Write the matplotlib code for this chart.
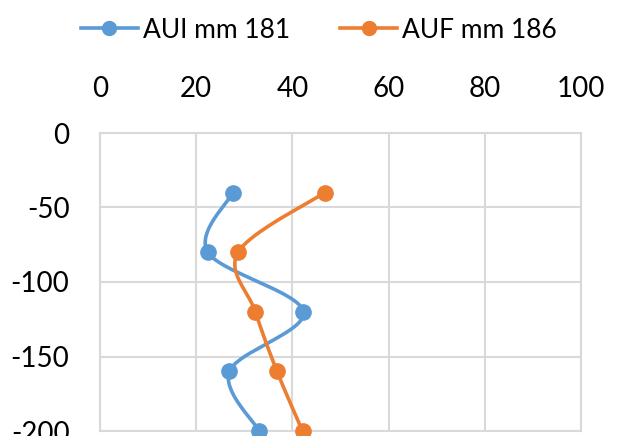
import numpy as np
import matplotlib
matplotlib.use("Agg")
import matplotlib.pyplot as plt
from matplotlib.lines import Line2D

# Depth profile data
depths = [-40, -80, -120, -160, -200]
aui_values = [27.6, 22.4, 42.3, 26.9, 33.1]
auf_values = [46.7, 28.7, 32.3, 36.8, 42.1]
series_names = ["AUI mm 181", "AUF mm 186"]
series_colors = ["#5B9BD5", "#ED7D31"]
x_ticks = [0, 20, 40, 60, 80, 100]
y_ticks = [0, -50, -100, -150, -200]

plt.rcParams["font.family"] = ["Lato", "DejaVu Sans"]
plt.rcParams["axes.unicode_minus"] = False

fig = plt.figure(figsize=(6.22, 4.36), dpi=100)
ax = fig.add_axes([100 / 622, 5 / 436, 481 / 622, 298 / 436])
ax.set_xlim(0, 100)
ax.set_ylim(-200, 0)
ax.set_xticks(x_ticks)
ax.set_yticks(y_ticks)
ax.xaxis.tick_top()
ax.tick_params(axis="both", length=0, labelsize=20, colors="black")
ax.tick_params(axis="x", pad=22)
ax.tick_params(axis="y", pad=22)
grid_color = "#D9D9D9"
ax.grid(True, color=grid_color, linewidth=1.5)
ax.set_axisbelow(True)
for s in ax.spines.values():
    s.set_color(grid_color)
    s.set_linewidth(1.5)


def smooth_curve(xs, ys, n=40):
    """Bezier smoothing in display space (Catmull-Rom style control points)."""
    pts = ax.transData.transform(np.column_stack([xs, ys]))
    m = len(pts)
    out = []
    for i in range(m - 1):
        p0 = pts[i - 1] if i > 0 else pts[i]
        p1 = pts[i]
        p2 = pts[i + 1]
        p3 = pts[i + 2] if i + 2 < m else pts[i + 1]
        c1 = p1 + (p2 - p0) / 6.0
        c2 = p2 - (p3 - p1) / 6.0
        t = np.linspace(0, 1, n)[:, None]
        seg = ((1 - t) ** 3) * p1 + 3 * ((1 - t) ** 2) * t * c1 + 3 * (1 - t) * t ** 2 * c2 + t ** 3 * p2
        out.append(seg if i == 0 else seg[1:])
    out = np.vstack(out)
    return ax.transData.inverted().transform(out)


handles = []
for vals, name, col in zip([aui_values, auf_values], series_names, series_colors):
    curve = smooth_curve(vals, depths)
    ax.plot(curve[:, 0], curve[:, 1], color=col, linewidth=2.6, solid_capstyle="round", zorder=3)
    ax.plot(vals, depths, linestyle="none", marker="o", markersize=11, color=col, zorder=4, clip_on=False)
    handles.append(Line2D([], [], color=col, linewidth=2.6, marker="o", markersize=10))

fig.legend(handles, series_names, loc="center", bbox_to_anchor=(319 / 622, 1 - 30 / 436),
           ncol=2, frameon=False, fontsize=19, handlelength=2.15, handletextpad=0.2,
           columnspacing=1.9)

fig.savefig("out.png", dpi=100)
